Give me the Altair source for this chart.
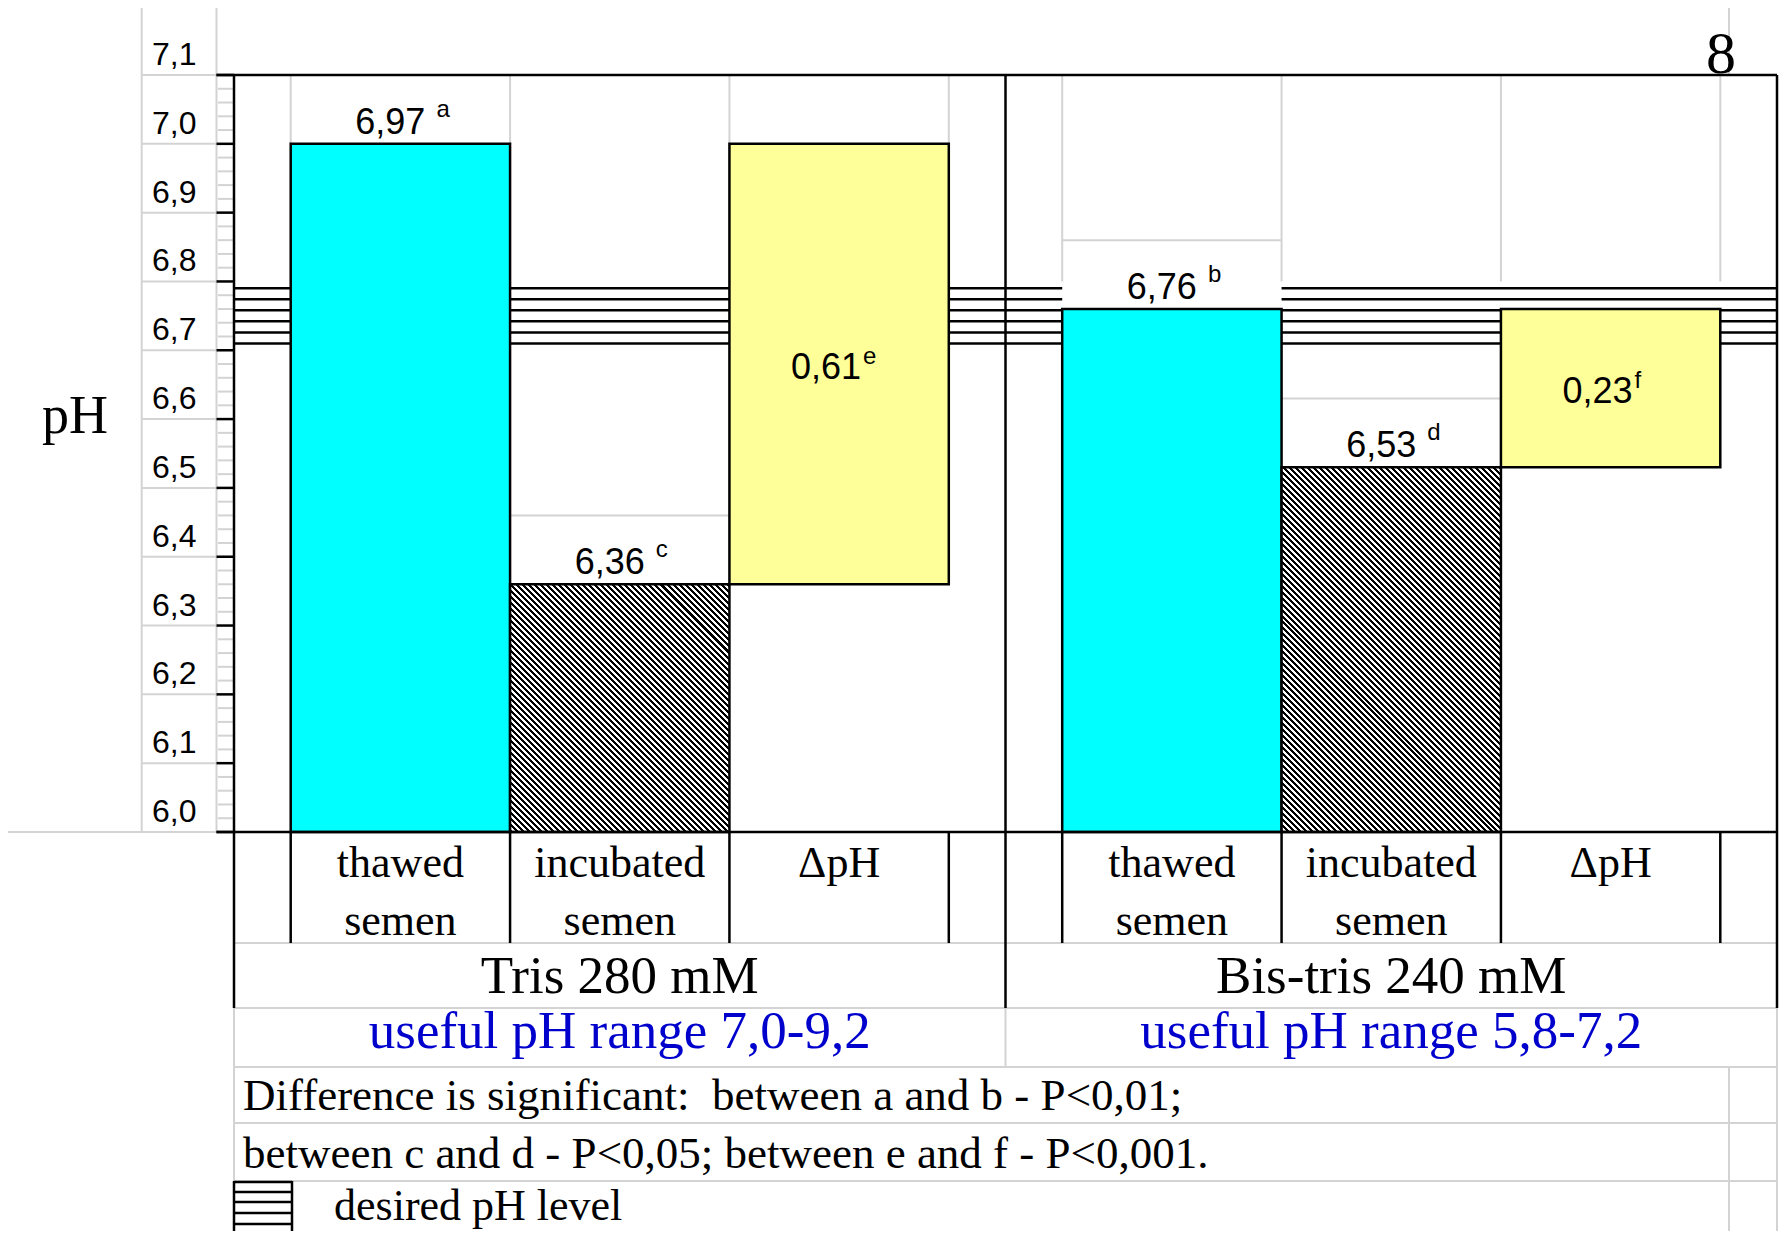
import altair as alt
import pandas as pd

# ---------------- data ----------------
groups = ["Tris 280 mM", "Bis-tris 240 mM"]
useful_ranges = ["useful pH range 7,0-9,2", "useful pH range 5,8-7,2"]
categories = ["thawed semen", "incubated semen", "ΔpH"]
cat_line1 = ["thawed", "incubated", "ΔpH"]
cat_line2 = ["semen", "semen", ""]
thawed_ph = [7.00, 6.76]          # bar tops as drawn
incubated_ph = [6.36, 6.53]
thawed_text = ["6,97", "6,76"]
thawed_mark = ["a", "b"]
incubated_text = ["6,36", "6,53"]
incubated_mark = ["c", "d"]
delta_text = ["0,61", "0,23"]
delta_mark = ["e", "f"]
desired_ph = [6.71, 6.726, 6.742, 6.758, 6.774, 6.79]
tick_values = [6.0, 6.1, 6.2, 6.3, 6.4, 6.5, 6.6, 6.7, 6.8, 6.9, 7.0, 7.1]
tick_labels = ["6,0", "6,1", "6,2", "6,3", "6,4", "6,5", "6,6", "6,7", "6,8", "6,9", "7,0", "7,1"]
notes = ["Difference is significant: \u00a0between a and b - P<0,01;",
         "between c and d - P<0,05; between e and f - P<0,001."]
legend_label = "desired pH level"
axis_title = "pH"
page_number = "8"

# ---------------- layout ----------------
W, H = 1771, 1223
SANS = "Liberation Sans"
SERIF = "Liberation Serif"
GRAY = "#d3d3d3"
PH_MIN, PH_MAX = 6.0, 7.1
Y_BOT, Y_TOP = 824.0, 67.0


def ypx(v):
    return Y_BOT + (v - PH_MIN) * (Y_TOP - Y_BOT) / (PH_MAX - PH_MIN)


X_AX, X_R = 226.0, 1769.0
GROUP_W = (X_R - X_AX) / 2
X_SEP = X_AX + GROUP_W
PAD_OUT = 0.2585
STEP = GROUP_W / (3 + 2 * PAD_OUT)


def bar_edges(gi):
    s = X_AX + gi * GROUP_W + PAD_OUT * STEP
    return [s + k * STEP for k in range(4)]


XL1, XL2 = 133.7, 208.5
ROWS = [935, 1000, 1059, 1115, 1173, 1229]
cell_line_bottom = [7.0, 6.8]


def hr(rows, color, width):
    df = pd.DataFrame(rows, columns=["a", "b", "y"])
    return alt.Chart(df).mark_rule(color=color, strokeWidth=width).encode(
        x=alt.X("a:Q", scale=None), x2="b:Q", y=alt.Y("y:Q", scale=None))


def vr(rows, color, width):
    df = pd.DataFrame(rows, columns=["x", "a", "b"])
    return alt.Chart(df).mark_rule(color=color, strokeWidth=width).encode(
        x=alt.X("x:Q", scale=None), y=alt.Y("a:Q", scale=None), y2="b:Q")


def label(text, x, y, size, font=SERIF, align="center", color="black"):
    return alt.Chart(pd.DataFrame({"t": [text]})).mark_text(
        font=font, fontSize=size, align=align, baseline="alphabetic", color=color
    ).encode(x=alt.value(x), y=alt.value(y), text="t:N")


# ---------------- scales ----------------
XS = alt.X("group:N", scale=alt.Scale(type="band", domain=groups, range=[X_AX, X_R],
                                      paddingInner=0, paddingOuter=0), axis=None)
XO = alt.XOffset("cat:N", scale=alt.Scale(type="band", domain=categories,
                                          paddingInner=0, paddingOuter=PAD_OUT))
YS = alt.Scale(domain=[PH_MIN, PH_MAX], range=[Y_BOT, Y_TOP], zero=False, nice=False)

rows = []
for gi, g in enumerate(groups):
    rows.append({"group": g, "cat": categories[0], "kind": "thawed", "lo": PH_MIN, "hi": thawed_ph[gi],
                 "txt": thawed_text[gi], "sup": thawed_mark[gi]})
    rows.append({"group": g, "cat": categories[1], "kind": "incubated", "lo": PH_MIN, "hi": incubated_ph[gi],
                 "txt": incubated_text[gi], "sup": incubated_mark[gi]})
    rows.append({"group": g, "cat": categories[2], "kind": "delta", "lo": incubated_ph[gi], "hi": thawed_ph[gi],
                 "txt": delta_text[gi], "sup": delta_mark[gi]})
bars = pd.DataFrame(rows)
base = alt.Chart(bars).encode(x=XS, xOffset=XO)

layers = []

# ---- spreadsheet gray grid ----
gray_h = [(XL1, XL2, ypx(v)) for v in tick_values] + [(0, X_AX, ypx(PH_MIN))]
gray_h += [(X_AX, X_R, y) for y in ROWS]
minor = [round(PH_MIN + 0.02 * i, 2) for i in range(56) if i % 5 != 0]
gray_h += [(210, 225, ypx(m)) for m in minor]
gray_v = [(XL1, 0, Y_BOT), (XL2, 0, Y_BOT), (1721, 0, Y_TOP),
          (X_AX, 1000, H), (X_SEP, 1000, 1059), (1721, 1059, H), (X_R, 1000, H)]
layers += [hr(gray_h, GRAY, 2), vr(gray_v, GRAY, 2)]

# ---- desired pH level lines ----
des = pd.DataFrame({"v": desired_ph, "a": X_AX, "b": X_R})
layers.append(alt.Chart(des).mark_rule(color="black", strokeWidth=2.5).encode(
    x=alt.X("a:Q", scale=None), x2="b:Q", y=alt.Y("v:Q", scale=YS, axis=None)))

# ---- white label cells over the lines ----
layers.append(base.transform_filter("datum.kind != 'delta'").transform_calculate(
    top="datum.hi + 0.1").mark_bar(fill="white", strokeWidth=0).encode(
    y=alt.Y("hi:Q", scale=YS, axis=None), y2="top:Q"))

# ---- gray cell borders inside the plot ----
cell_h, cell_v = [], []
for gi in range(2):
    e = bar_edges(gi)
    cell_h.append((e[0], e[1], ypx(thawed_ph[gi] + 0.1)))
    cell_h.append((e[1], e[2], ypx(incubated_ph[gi] + 0.1)))
    for x in e:
        cell_v.append((x, ypx(PH_MAX), ypx(cell_line_bottom[gi])))
layers += [hr(cell_h, GRAY, 2), vr(cell_v, GRAY, 2)]

# ---- bars ----
Ybar = alt.Y("lo:Q", scale=YS, axis=None)
layers.append(base.transform_filter("datum.kind == 'thawed'").mark_bar(
    fill="#00FFFF", stroke="black", strokeWidth=2.5).encode(y=Ybar, y2="hi:Q"))
for gi, g in enumerate(groups):
    h = ypx(PH_MIN) - ypx(incubated_ph[gi])
    r = h / STEP
    n = max(1, round(STEP * (1 + r * r) / 6.0))
    stops = []
    for k in range(n):
        a, b, c = k / n, (k + 0.5) / n, (k + 1) / n
        stops += [alt.GradientStop(color="black", offset=a), alt.GradientStop(color="black", offset=b),
                  alt.GradientStop(color="white", offset=b), alt.GradientStop(color="white", offset=c)]
    grad = alt.LinearGradient(gradient="linear", stops=stops, x1=0, y1=1, x2=1, y2=1 - r)
    layers.append(base.transform_filter(
        f"datum.kind == 'incubated' && datum.group == '{g}'").mark_bar(
        fill=grad, stroke="black", strokeWidth=2.5).encode(y=Ybar, y2="hi:Q"))
layers.append(base.transform_filter("datum.kind == 'delta'").mark_bar(
    fill="#FFFF99", stroke="black", strokeWidth=2.5).encode(y=Ybar, y2="hi:Q"))

# ---- black frame, ticks, category cells, legend box ----
blk_h = [(XL2, X_R, ypx(PH_MAX)), (XL2, X_R, ypx(PH_MIN))]
blk_h += [(XL2, X_AX, ypx(v)) for v in tick_values]
blk_h += [(X_AX, 284, y) for y in [1174, 1184, 1194, 1205, 1216, 1227]]
blk_v = [(X_AX, ypx(PH_MAX), 1000), (X_SEP, ypx(PH_MAX), 1000), (X_R, ypx(PH_MAX), 1000),
         (X_AX, 1173, 1229), (284, 1173, 1229)]
for gi in range(2):
    for x in bar_edges(gi):
        blk_v.append((x, Y_BOT, 935))
layers += [hr(blk_h, "black", 2.5), vr(blk_v, "black", 2.5)]

# ---- value labels ----
layers.append(base.transform_filter("datum.kind != 'delta'").mark_text(
    font=SANS, fontSize=36, align="right", baseline="alphabetic", dx=25, dy=-10, color="black").encode(
    y=alt.Y("hi:Q", scale=YS, axis=None), text="txt:N"))
layers.append(base.transform_filter("datum.kind != 'delta'").mark_text(
    font=SANS, fontSize=24, align="left", baseline="alphabetic", dx=36, dy=-27, color="black").encode(
    y=alt.Y("hi:Q", scale=YS, axis=None), text="sup:N"))
mid = base.transform_filter("datum.kind == 'delta'").transform_calculate(mid="(datum.lo + datum.hi) / 2")
layers.append(mid.mark_text(font=SANS, fontSize=36, align="right", baseline="alphabetic",
                            dx=22, dy=15, color="black").encode(
    y=alt.Y("mid:Q", scale=YS, axis=None), text="txt:N"))
layers.append(mid.mark_text(font=SANS, fontSize=24, align="left", baseline="alphabetic",
                            dx=24, dy=0, color="black").encode(
    y=alt.Y("mid:Q", scale=YS, axis=None), text="sup:N"))

# ---- y tick labels ----
tdf = pd.DataFrame({"v": tick_values, "lab": tick_labels})
layers.append(alt.Chart(tdf).mark_text(font=SANS, fontSize=32, align="left", baseline="alphabetic",
                                       dy=-10, color="black").encode(
    x=alt.value(144), y=alt.Y("v:Q", scale=YS, axis=None), text="lab:N"))

# ---- category labels ----
cdf = pd.DataFrame([{"group": g, "cat": c, "l1": l1, "l2": l2}
                    for g in groups for c, l1, l2 in zip(categories, cat_line1, cat_line2)])
cbase = alt.Chart(cdf).encode(x=XS, xOffset=XO)
layers.append(cbase.mark_text(font=SERIF, fontSize=44, baseline="alphabetic", color="black").encode(
    y=alt.value(869), text="l1:N"))
layers.append(cbase.mark_text(font=SERIF, fontSize=44, baseline="alphabetic", color="black").encode(
    y=alt.value(927), text="l2:N"))

# ---- group labels ----
gdf = pd.DataFrame({"group": groups, "useful": useful_ranges})
layers.append(alt.Chart(gdf).mark_text(font=SERIF, fontSize=53, baseline="alphabetic", color="black").encode(
    x=XS, y=alt.value(985), text="group:N"))
layers.append(alt.Chart(gdf).mark_text(font=SERIF, fontSize=53, baseline="alphabetic", color="#0000CD").encode(
    x=XS, y=alt.value(1040), text="useful:N"))

# ---- free texts ----
layers.append(label(axis_title, 67, 425, 54))
layers.append(label(page_number, 1713, 65, 60))
layers.append(label(notes[0], 235, 1102, 45, align="left"))
layers.append(label(notes[1], 235, 1160, 45, align="left"))
layers.append(label(legend_label, 326, 1212, 44, align="left"))

chart = alt.layer(*layers).resolve_scale(
    x="independent", y="independent", xOffset="independent"
).properties(
    width=W, height=H, padding=0, autosize=alt.AutoSizeParams(type="none"), background="white"
).configure_view(stroke=None)

chart.save("out.html", embed_options={"renderer": "svg", "actions": False})
